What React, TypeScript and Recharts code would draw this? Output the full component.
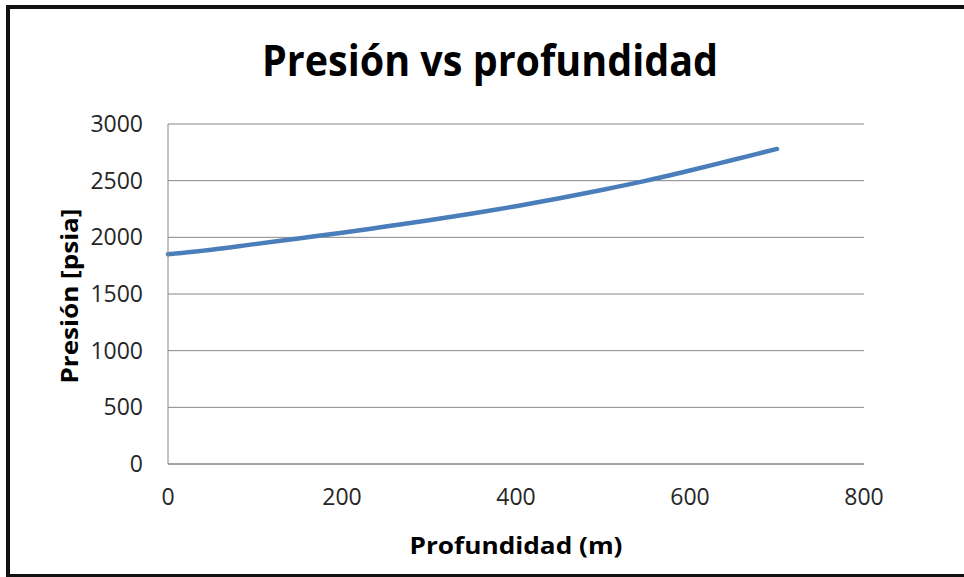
import { LineChart, Line, XAxis, YAxis, CartesianGrid } from 'recharts';

// depth in metres, pressure in psia
const depth = [0, 50, 100, 150, 200, 250, 300, 350, 400, 450, 500, 550, 600, 650, 700];
const pressure = [1850, 1890, 1940, 1990, 2040, 2095, 2150, 2210, 2275, 2345, 2420, 2500, 2590, 2685, 2780];

const xTicks = [0, 200, 400, 600, 800];
const yTicks = [0, 500, 1000, 1500, 2000, 2500, 3000];

const title = 'Presión vs profundidad';
const xLabel = 'Profundidad (m)';
const yLabel = 'Presión [psia]';

const data = depth.map((d, i) => ({ depth: d, pressure: pressure[i] }));

const FONT = '"Open Sans", sans-serif';
const tickStyle = { fill: '#262626', fontSize: 23, fontFamily: FONT };

export default function App() {
  return (
    <div
      style={{
        position: 'absolute',
        left: 0,
        top: 0,
        width: 964,
        height: 577,
        overflow: 'hidden',
        background: '#fff',
      }}
    >
      <div
        style={{
          position: 'absolute',
          left: 6,
          top: 5,
          width: 980,
          height: 565,
          border: '4px solid #111',
        }}
      />
      <LineChart
        width={964}
        height={577}
        data={data}
        margin={{ top: 124, right: 100, bottom: 53, left: 108 }}
        style={{ position: 'absolute', left: 0, top: 0 }}
      >
        <CartesianGrid vertical={false} stroke="#868686" strokeWidth={1} />
        <XAxis
          type="number"
          dataKey="depth"
          domain={[0, 800]}
          ticks={xTicks}
          height={60}
          tick={tickStyle}
          tickLine={false}
          tickSize={0}
          tickMargin={25}
          axisLine={{ stroke: '#868686' }}
        />
        <YAxis
          type="number"
          domain={[0, 3000]}
          ticks={yTicks}
          width={60}
          tick={tickStyle}
          tickLine={false}
          tickSize={0}
          tickMargin={25}
          axisLine={{ stroke: '#868686' }}
        />
        <Line
          type="monotone"
          dataKey="pressure"
          stroke="#4a7ebb"
          strokeWidth={4.5}
          strokeLinecap="round"
          dot={false}
          isAnimationActive={false}
        />
      </LineChart>
      <svg
        width={964}
        height={577}
        style={{ position: 'absolute', left: 0, top: 0, pointerEvents: 'none' }}
      >
        <text
          x={490}
          y={76}
          textAnchor="middle"
          fontFamily={FONT}
          fontWeight="bold"
          fontSize={43}
          fill="#000"
          textLength={456}
          lengthAdjust="spacingAndGlyphs"
        >
          {title}
        </text>
        <text
          x={516}
          y={554}
          textAnchor="middle"
          fontFamily={FONT}
          fontWeight="bold"
          fontSize={24}
          fill="#000"
          textLength={213}
          lengthAdjust="spacingAndGlyphs"
        >
          {xLabel}
        </text>
        <text
          x={78}
          y={296}
          transform="rotate(-90 78 296)"
          textAnchor="middle"
          fontFamily={FONT}
          fontWeight="bold"
          fontSize={24}
          fill="#000"
          textLength={175}
          lengthAdjust="spacingAndGlyphs"
        >
          {yLabel}
        </text>
      </svg>
    </div>
  );
}
